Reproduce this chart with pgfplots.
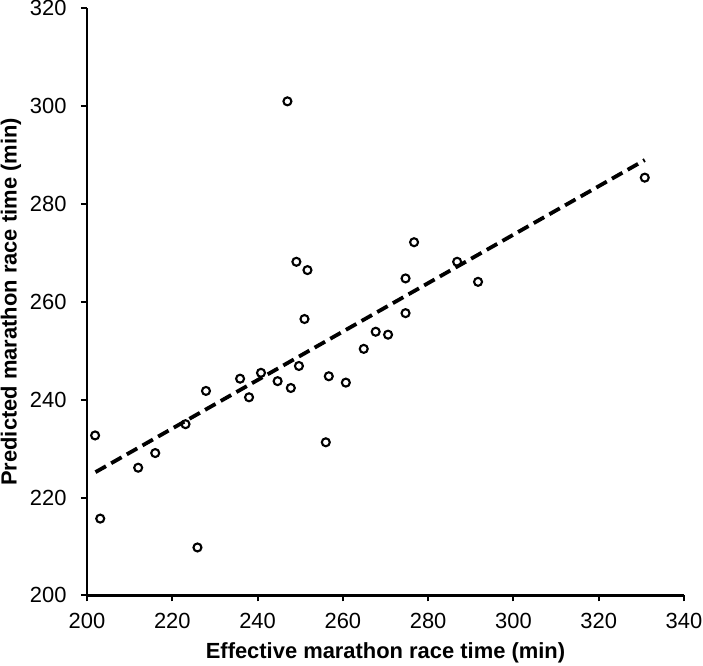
\documentclass[border=0pt]{standalone}
\usepackage{pgfplots}
\pgfplotsset{compat=1.18}
\usepackage{fontspec}
\setmainfont{Liberation Sans}
\begin{document}
\begin{tikzpicture}
\begin{axis}[
  scale only axis,
  width=597bp, height=587bp,
  xmin=200, xmax=340, ymin=200, ymax=320,
  xtick={200,220,...,340}, ytick={200,220,...,320},
  axis lines=left,
  axis line style={line width=2.2bp, -},
  tick style={line width=2bp, black},
  tick align=outside,
  major tick length=6bp,
  font=\fontsize{22}{26}\selectfont,
  /pgf/number format/assume math mode=true,
  /pgf/number format/set thousands separator={},
  xticklabel style={yshift=-8bp},
  yticklabel style={xshift=-11bp},
  xlabel={\bfseries Effective marathon race time (min)},
  ylabel={\bfseries Predicted marathon race time (min)},
  xlabel style={font=\fontsize{22}{26}\selectfont\bfseries, yshift=-7bp},
  ylabel style={font=\fontsize{22}{26}\selectfont\bfseries, yshift=2bp},
  clip=false,
]
\addplot[only marks, mark=o, mark size=4bp, mark options={line width=2.1bp, black}] coordinates {
(201.9,232.7) (203.1,215.7) (212.0,226.1) (216.0,229.1) (223.1,235.0)
(225.9,209.8) (227.9,241.8) (235.9,244.3) (238.0,240.5) (240.8,245.5)
(244.7,243.8) (247.0,301.0) (247.8,242.4) (249.1,268.2) (249.7,246.9)
(251.0,256.5) (251.7,266.5) (256.0,231.3) (256.7,244.8) (260.7,243.5)
(264.9,250.4) (267.7,253.9) (270.6,253.3) (274.7,257.7) (274.7,264.8)
(276.7,272.2) (286.8,268.2) (291.7,264.1) (330.8,285.4)
};
\addplot[black, line width=3.8bp, dash pattern=on 12bp off 6bp] coordinates {(202.0,225.2) (330.8,289.0)};
\end{axis}
\pgfresetboundingbox
\path (current axis.south west) ++(-87bp,-70bp) coordinate (bbA);
\path (current axis.north east) ++(19bp,8.4bp) coordinate (bbB);
\useasboundingbox (bbA) rectangle (bbB);
\end{tikzpicture}
\end{document}
